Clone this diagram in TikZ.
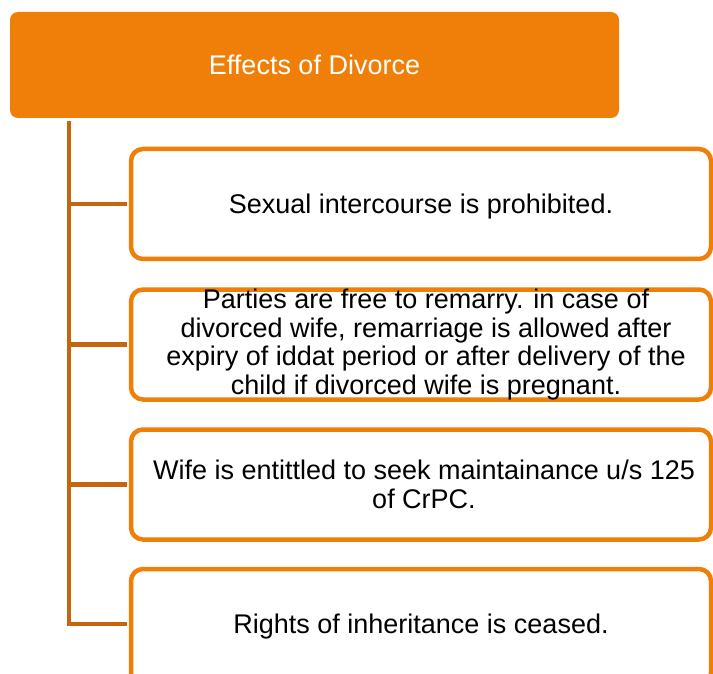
\documentclass[tikz,border=0pt]{standalone}
\usepackage{fontspec}
\setmainfont{Liberation Sans}
\definecolor{accent}{HTML}{F07F09}
\definecolor{linkbrown}{HTML}{C4650F}
\begin{document}
\begin{tikzpicture}[x=1pt,y=-1pt,
  headbox/.style={fill=accent, draw=none, rounded corners=8pt,
    minimum width=609pt, minimum height=106pt, inner sep=0pt,
    text=white, font=\fontsize{27}{29}\selectfont},
  itembox/.style={draw=accent, line width=4.5pt, fill=white,
    rounded corners=12pt, minimum width=580pt, minimum height=110pt,
    inner sep=0pt},
  itemtext/.style={inner sep=0pt, align=center,
    font=\fontsize{27}{28.7}\selectfont},
  link/.style={draw=linkbrown, line width=4.5pt, line join=miter,
    shorten >=2.25pt}]
\useasboundingbox (0,0) rectangle (713,674);
\clip (0,0) rectangle (713,674);

% heading
\node[headbox, text depth=0pt] (head) at (314.5,65) {Effects of Divorce};

% top of the tree spine
\coordinate (spine) at (69,121);

% item frames
\node[itembox] (b1) at (421,204) {};
\node[itembox] (b2) at (421,344.5) {};
\node[itembox] (b3) at (421,484.5) {};
\node[itembox, minimum height=116pt] (b4) at (421,627) {};

% connectors: spine with its branches, ending at the frames' outer edge
\draw[link] (spine) |- ([yshift=3pt]b4.west);
\draw[link] (b1.west -| spine) -- (b1.west);
\draw[link] (b2.west -| spine) -- (b2.west);
\draw[link] (b3.west -| spine) -- (b3.west);

% item texts
\node[itemtext, text depth=0pt] (t1) at (b1.center) {Sexual intercourse is prohibited.};
\node[itemtext, xshift=5pt] (t2) at (b2.center) {Parties are free to remarry. in case of\\
  divorced wife, remarriage is allowed after\\
  expiry of iddat period or after delivery of the\\
  child if divorced wife is pregnant.};
\node[itemtext, xshift=3pt] (t3) at (b3.center) {Wife is entittled to seek maintainance u/s 125\\
  of CrPC.};
\node[itemtext, text depth=0pt] (t4) at ([yshift=3pt]b4.center) {Rights of inheritance is ceased.};
\end{tikzpicture}
\end{document}
